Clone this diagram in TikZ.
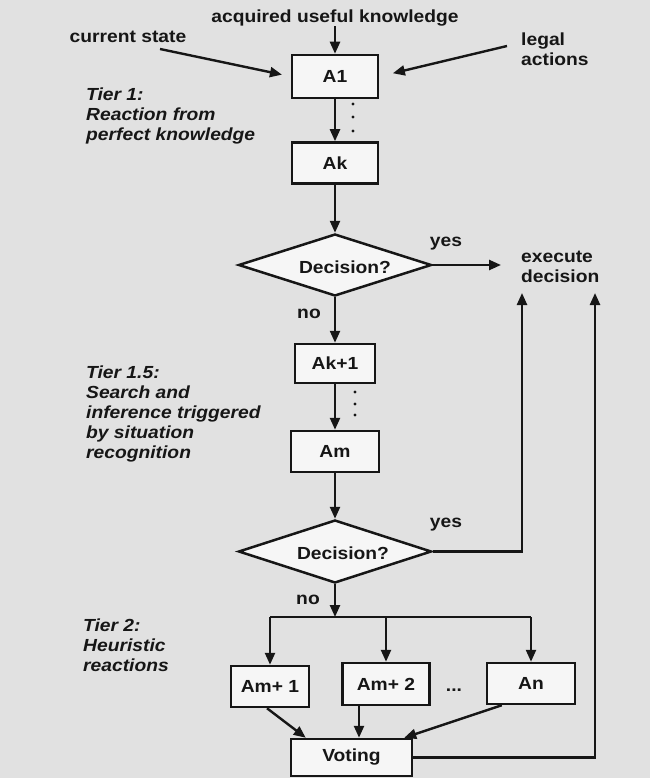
\documentclass[tikz,border=0pt]{standalone}
\usepackage{fontspec}
\setmainfont{Liberation Sans}[FakeStretch=1.1]
\usetikzlibrary{shapes.geometric,arrows.meta}
\definecolor{bg}{HTML}{E1E1E1}
\definecolor{boxfill}{HTML}{F6F6F6}
\definecolor{ink}{HTML}{161616}
\begin{document}
\begin{tikzpicture}[x=1pt,y=-1pt,
  every node/.style={font=\fontsize{17.5}{20}\selectfont\bfseries, text=ink},
  box/.style={draw=ink, line width=2.5pt, fill=boxfill, inner sep=0pt},
  dec/.style={draw=ink, line width=2.5pt, fill=boxfill, shape=diamond, inner sep=0pt, minimum width=193pt, minimum height=62pt},
  arr/.style={draw=ink, line width=2.4pt, -{Triangle[length=12pt,width=10pt]}},
  ln/.style={draw=ink, line width=2.4pt},
  tier/.style={font=\fontsize{17.5}{19.8}\selectfont\bfseries\itshape, align=left, anchor=west, inner sep=0pt},
  lbl/.style={inner sep=0pt}
]
\fill[bg] (0,0) rectangle (650,778);
\useasboundingbox (0,0) rectangle (650,778);

% top inputs
\node[lbl] (know) at (335,18) {acquired useful knowledge};
\node[lbl] (cur) at (128,37) {current state};
\node[lbl, align=left, anchor=west] (legal) at (521,49) {legal\\actions};
\node[box, minimum width=86pt, minimum height=43pt] (A1) at (335,76.5) {A1};
\coordinate (cst) at (160,49);
\coordinate (lat) at (507,46);
\draw[arr] (know) -- (A1);
\draw[arr, shorten >=9pt] (cst) -- (A1.west);
\draw[arr, shorten >=14pt] (lat) -- (A1.east);

% tier 1
\node[tier] (t1) at (86,116) {Tier 1:\\Reaction from\\perfect knowledge};
\node[box, minimum width=86pt, minimum height=41pt] (Ak) at (335,163) {Ak};
\draw[arr] (A1) -- (Ak);
\fill[ink] (353,104) circle (1.6pt) (353,117) circle (1.6pt) (353,131) circle (1.6pt);

% decision 1
\node[dec] (d1) at (335,265) {};
\node[lbl] (q1) at (345,267) {Decision?};
\draw[arr] (Ak) -- (d1);
\node[lbl] (yes1) at (446,244) {yes};
\node[lbl, align=left, anchor=west] (exec) at (521,267) {execute\\decision};
\draw[arr, shorten >=20pt] (d1.east) -- (d1.east -| exec.west);
\node[lbl] (no1) at (309,314) {no};

% tier 1.5
\node[tier] (t15) at (86,414) {Tier 1.5:\\Search and\\inference triggered\\by situation\\recognition};
\node[box, minimum width=80pt, minimum height=39pt] (Ak1) at (335,363.5) {Ak+1};
\draw[arr] (d1) -- (Ak1);
\node[box, minimum width=88pt, minimum height=41pt] (Am) at (335,451.5) {Am};
\draw[arr] (Ak1) -- (Am);
\fill[ink] (355,392) circle (1.6pt) (355,404) circle (1.6pt) (355,415) circle (1.6pt);

% decision 2
\node[dec, minimum height=63pt] (d2) at (335,551.5) {};
\node[lbl] (q2) at (343,553) {Decision?};
\draw[arr] (Am) -- (d2);
\node[lbl] (yes2) at (446,525) {yes};
\coordinate (e1) at (522,293);
\coordinate (e2) at (595,293);
\draw[arr] (d2.east) -| (e1);
\node[lbl] (no2) at (308,600) {no};
\coordinate (bar) at (335,617);
\draw[arr] (d2.south) -- (bar);

% tier 2
\node[tier] (t2) at (83,645) {Tier 2:\\Heuristic\\reactions};
\node[box, minimum width=78pt, minimum height=41pt] (m1) at (270,686.5) {Am+ 1};
\node[box, minimum width=87pt, minimum height=42pt] (m2) at (386,684) {Am+ 2};
\node[box, minimum width=88pt, minimum height=41pt] (mn) at (531,683.5) {An};
\node[lbl] (dots) at (454,690) {...};
\draw[ln] (bar -| m1.north) -- (bar -| mn.north);
\draw[arr] (bar -| m1.north) -- (m1.north);
\draw[arr] (bar -| m2.north) -- (m2.north);
\draw[arr] (bar -| mn.north) -- (mn.north);

\node[box, minimum width=121pt, minimum height=37pt] (vote) at (351.5,757.5) {Voting};
\path ([xshift=-27pt]m2.south) coordinate (m2s);
\draw[arr] ([xshift=-3pt]m1.south) -- ([xshift=16pt]vote.north west);
\draw[arr] (m2s) -- (m2s |- vote.north);
\draw[arr] ([xshift=16pt]mn.south west) -- ([xshift=-9pt]vote.north east);
\draw[arr] (vote.east) -| (e2);
\end{tikzpicture}
\end{document}
